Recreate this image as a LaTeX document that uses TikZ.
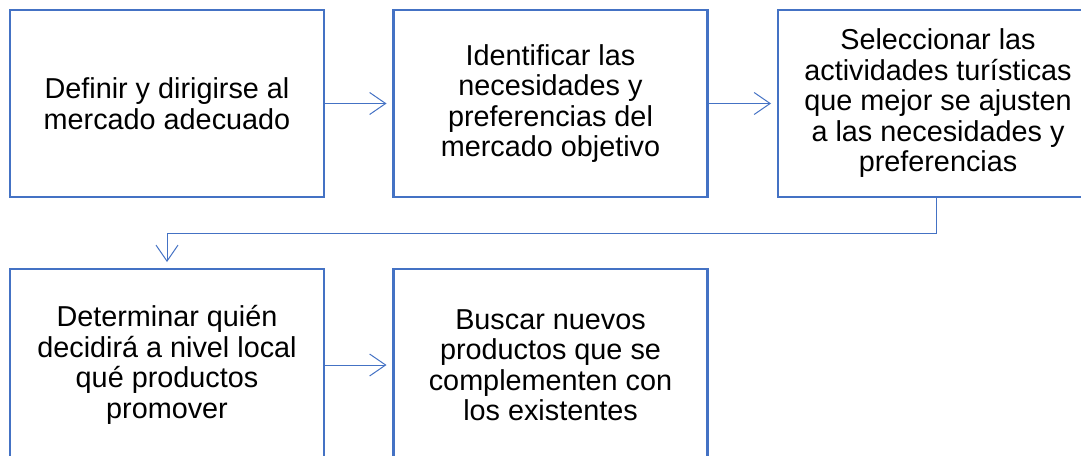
\documentclass[tikz,border=0pt]{standalone}
\usepackage{fontspec}
\setmainfont{Liberation Sans}
\usetikzlibrary{arrows.meta}
\definecolor{boxblue}{HTML}{4472C4}
\tikzset{
  stepbox/.style={draw=boxblue, line width=2.2pt, minimum width=314pt, minimum height=187pt,
    inner sep=0pt, outer sep=0pt, align=center, text=black,
    font=\fontsize{28.8}{30.5}\selectfont},
  link/.style={draw=boxblue, line width=1pt, -{Straight Barb[length=16pt,width=22pt,line width=1pt]}, shorten >=7pt}
}
\begin{document}
\begin{tikzpicture}[x=1pt,y=-1pt]
\useasboundingbox (0,0) rectangle (1081,455);
\clip (0,0) rectangle (1081,455);
\node[stepbox] (b1) at (167,103.5) {Definir y dirigirse al\\mercado adecuado};
\node[stepbox] (b2) at (550.5,103.5) {Identificar las\\necesidades y\\preferencias del\\mercado objetivo};
\node[stepbox, minimum width=320pt] (b3) at (938,103.5) {Seleccionar las\\actividades turísticas\\que mejor se ajusten\\a las necesidades y\\preferencias};
\node[stepbox, minimum height=192pt] (b4) at (167,365) {Determinar quién\\decidirá a nivel local\\qué productos\\promover};
\node[stepbox, minimum height=192pt] (b5) at (550.5,365) {Buscar nuevos\\productos que se\\complementen con\\los existentes};
\draw[link] (b1.east) -- (b2.west);
\draw[link] (b2.east) -- (b3.west);
\draw[link] (b4.east) -- (b5.west);
\draw[link] (b3.south) ++(-2,0) coordinate (c3) (c3) -- ++(0,36) -| (b4.north);
\end{tikzpicture}
\end{document}
